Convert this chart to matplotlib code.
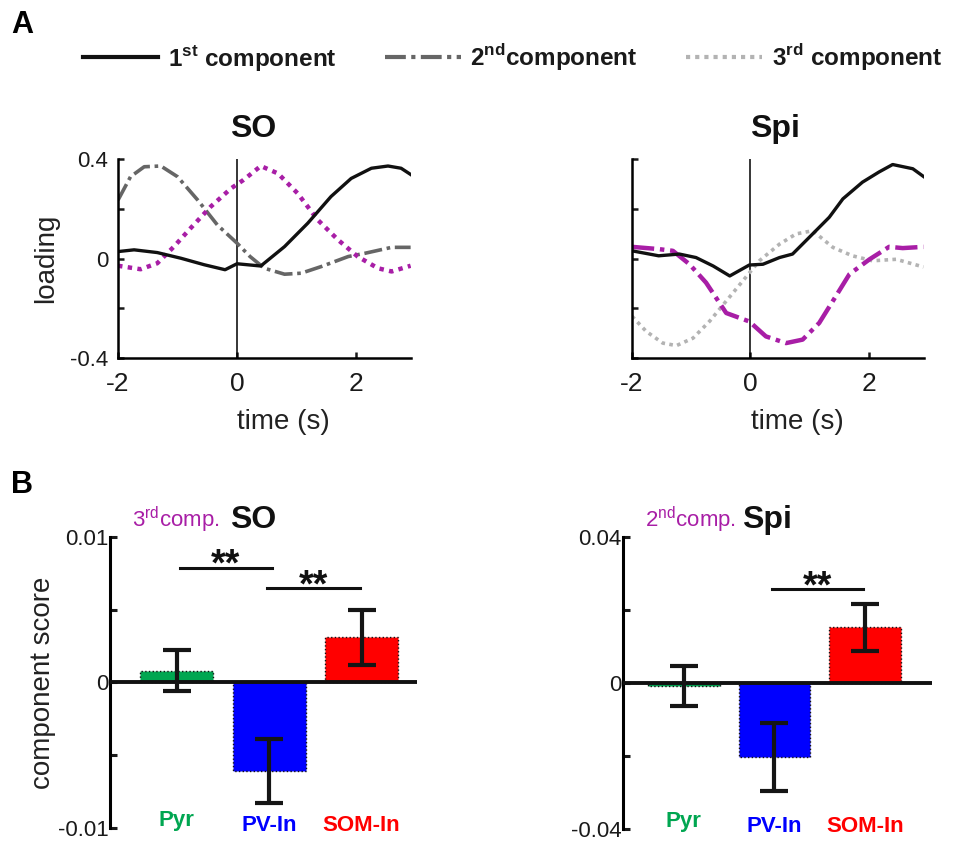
import numpy as np
import matplotlib
matplotlib.use('Agg')
from matplotlib import pyplot as plt
from matplotlib.lines import Line2D
import matplotlib.transforms as mtransforms

plt.rcParams['font.family'] = ['Liberation Sans', 'DejaVu Sans']
plt.rcParams['mathtext.fontset'] = 'custom'
plt.rcParams['mathtext.rm'] = 'Liberation Sans'
plt.rcParams['mathtext.bf'] = 'Liberation Sans:bold'

MAG = '#a81ea6'
DARKGRAY = '#666666'
LIGHTGRAY = '#b3b3b3'

# ---- panel A : loadings ----
t_so1 = [-2.0, -1.73, -1.34, -0.94, -0.55, -0.2, 0.0, 0.4, 0.8, 1.19, 1.58, 1.92, 2.26, 2.54, 2.76, 2.92]
so1 = [0.028, 0.035, 0.024, 0.001, -0.025, -0.045, -0.021, -0.03, 0.048, 0.142, 0.249, 0.322, 0.363, 0.372, 0.363, 0.338]
t_so2 = [-2.0, -1.79, -1.56, -1.28, -1.0, -0.66, -0.33, 0.0, 0.22, 0.46, 0.8, 1.08, 1.42, 1.87, 2.15, 2.6, 2.92]
so2 = [0.235, 0.329, 0.369, 0.372, 0.329, 0.235, 0.135, 0.062, 0.008, -0.039, -0.063, -0.059, -0.032, 0.008, 0.021, 0.045, 0.045]
t_so3 = [-2.0, -1.62, -1.34, -1.06, -0.78, -0.44, -0.1, 0.11, 0.4, 0.69, 1.02, 1.36, 1.7, 2.03, 2.37, 2.6, 2.92]
so3 = [-0.029, -0.043, -0.019, 0.048, 0.122, 0.209, 0.282, 0.316, 0.372, 0.342, 0.262, 0.155, 0.075, 0.008, -0.039, -0.052, -0.029]

t_sp1 = [-2.0, -1.55, -1.2, -0.92, -0.63, -0.35, -0.02, 0.21, 0.49, 0.71, 1.05, 1.33, 1.56, 1.89, 2.17, 2.4, 2.74, 2.92]
sp1 = [0.031, 0.011, 0.018, 0.004, -0.03, -0.07, -0.026, -0.023, 0.004, 0.018, 0.099, 0.166, 0.24, 0.307, 0.348, 0.378, 0.361, 0.33]
t_sp2 = [-2.0, -1.55, -1.31, -1.03, -0.75, -0.41, -0.02, 0.26, 0.6, 0.88, 1.16, 1.39, 1.67, 2.01, 2.34, 2.57, 2.92]
sp2 = [0.047, 0.038, 0.031, -0.023, -0.097, -0.219, -0.253, -0.313, -0.34, -0.326, -0.259, -0.171, -0.063, -0.003, 0.047, 0.042, 0.047]
t_sp3 = [-2.0, -1.76, -1.48, -1.25, -0.97, -0.69, -0.41, -0.13, 0.15, 0.49, 0.77, 1.05, 1.39, 1.72, 2.06, 2.46, 2.92]
sp3 = [-0.232, -0.293, -0.34, -0.35, -0.32, -0.252, -0.171, -0.09, -0.009, 0.058, 0.099, 0.112, 0.045, 0.011, -0.009, -0.003, -0.034]

# ---- panel B : component scores ----
cells = ['Pyr', 'PV-In', 'SOM-In']
cell_colors = ['#00a651', '#0000ff', '#ff0000']
so_score = [0.0008, -0.0061, 0.0031]
so_err = [0.0014, 0.0022, 0.0019]
spi_score = [-0.0009, -0.0203, 0.0153]
spi_err = [0.0055, 0.0093, 0.0065]

DASHDOT = (0, (5, 1.3, 1, 1.3))
DOT = (0, (1, 1.2))

fig = plt.figure(figsize=(9.55, 8.46), dpi=100)

def loading_axes(rect, showlabels):
    ax = fig.add_axes(rect)
    ax.set_xlim(-2, 2.93)
    ax.set_ylim(-0.4, 0.4)
    for s in ['top', 'right']:
        ax.spines[s].set_visible(False)
    for s in ['left', 'bottom']:
        ax.spines[s].set_linewidth(1.8)
    ax.set_xticks([-2, 0, 2])
    ax.set_yticks([-0.4, -0.2, 0, 0.2, 0.4])
    ax.tick_params(direction='in', length=4, width=1.8, colors='#1a1a1a')
    ax.tick_params(axis='x', labelsize=19, pad=10)
    ax.tick_params(axis='y', labelsize=16, pad=7)
    if showlabels:
        ax.set_yticklabels(['-0.4', '', '0', '', '0.4'])
    else:
        ax.set_yticklabels([])
    ax.set_xticklabels(['-2', '0', '2'])
    ax.axvline(0, color='k', lw=1.1)
    ax.set_xlabel('time (s)', fontsize=20, color='#222222')
    ax.xaxis.set_label_coords(0.565, -0.255)
    return ax

ax1 = loading_axes([0.1236, 0.5768, 0.307, 0.2352], True)
ax1.plot(t_so2, so2, color=DARKGRAY, lw=2.6, linestyle=DASHDOT)
ax1.plot(t_so3, so3, color=MAG, lw=3.2, linestyle=DOT)
ax1.plot(t_so1, so1, color='#111111', lw=2.4)
ax1.set_ylabel('loading', fontsize=20, color='#222222')
ax1.yaxis.set_label_coords(-0.2, 0.5)
ax1.text(0.46, 1.15, 'SO', transform=ax1.transAxes, ha='center', va='center',
         fontsize=23, fontweight='bold', color='#111111')

ax2 = loading_axes([0.6618, 0.5768, 0.3058, 0.2352], False)
ax2.plot(t_sp3, sp3, color=LIGHTGRAY, lw=2.6, linestyle=DOT)
ax2.plot(t_sp2, sp2, color=MAG, lw=3.2, linestyle=DASHDOT)
ax2.plot(t_sp1, sp1, color='#111111', lw=2.4)
ax2.text(0.49, 1.15, 'Spi', transform=ax2.transAxes, ha='center', va='center',
         fontsize=23, fontweight='bold', color='#111111')

# legend
handles = [Line2D([], [], color='#111111', lw=3),
           Line2D([], [], color=DARKGRAY, lw=3, linestyle=DASHDOT),
           Line2D([], [], color=LIGHTGRAY, lw=3, linestyle=DOT)]
labels = [r'1$^{\mathbf{st}}$ component', r'2$^{\mathbf{nd}}$component', r'3$^{\mathbf{rd}}$ component']
leg = fig.legend(handles, labels, loc='center left', bbox_to_anchor=(83 / 955, 1 - 57 / 846),
                 ncol=3, frameon=False, handlelength=3.1, handletextpad=0.4, columnspacing=2.0,
                 borderpad=0, borderaxespad=0, prop={'size': 17.5, 'weight': 'bold'})
for txt in leg.get_texts():
    txt.set_color('#1a1a1a')


def score_axes(rect, vals, errs, lim, ticklabels, xlim):
    ax = fig.add_axes(rect)
    x = np.arange(1, len(vals) + 1)
    ax.bar(x, vals, width=0.79, color=cell_colors, edgecolor='#111111', linestyle=':', linewidth=1.0, zorder=2)
    ax.errorbar(x, vals, yerr=errs, fmt='none', ecolor='#151515', elinewidth=3, capsize=10, capthick=3, zorder=4)
    ax.axhline(0, color='#111111', lw=2.8, zorder=3)
    ax.set_xlim(*xlim)
    ax.set_ylim(-lim, lim)
    for s in ['top', 'right', 'bottom']:
        ax.spines[s].set_visible(False)
    ax.spines['left'].set_linewidth(2.2)
    ax.set_xticks([])
    ax.set_yticks([-lim, -lim / 2, 0, lim / 2, lim])
    ax.set_yticklabels([ticklabels[0], '', '0', '', ticklabels[1]])
    ax.tick_params(axis='y', direction='in', length=5, width=2.2, labelsize=16, pad=1, colors='#1a1a1a')
    trans = mtransforms.blended_transform_factory(ax.transData, ax.transAxes)
    for i, (name, c) in enumerate(zip(cells, cell_colors)):
        ax.text(x[i], 0.025 if i == 0 else 0.008, name, transform=trans, ha='center', va='center',
                fontsize=16, fontweight='bold', color=c)
    return ax, trans


def sig(ax, x0, x1, y):
    ax.plot([x0, x1], [y, y], color='#111111', lw=2.2)
    ax.annotate('**', xy=((x0 + x1) / 2, y), xytext=(0, -6), textcoords='offset points',
                ha='center', va='baseline', fontsize=27, fontweight='bold', color='#111111')


ax3, tr3 = score_axes([0.1152, 0.0213, 0.3215, 0.344], so_score, so_err, 0.01, ['-0.01', '0.01'], (0.276, 3.6))
ax3.set_ylabel('component score', fontsize=20, color='#222222')
ax3.yaxis.set_label_coords(-0.175, 0.5)
sig(ax3, 1.03, 2.03, 0.0079)
sig(ax3, 1.98, 2.98, 0.0065)
ax3.text(0.466, 1.058, 'SO', transform=ax3.transAxes, ha='center', va='center',
         fontsize=23, fontweight='bold', color='#111111')
ax3.text(0.355, 1.058, r'3$^{\mathrm{rd}}$comp.', transform=ax3.transAxes, ha='right', va='center',
         fontsize=16, color=MAG)

ax4, tr4 = score_axes([0.6524, 0.0201, 0.3236, 0.345], spi_score, spi_err, 0.04, ['-0.04', '0.04'], (0.33, 3.74))
sig(ax4, 1.97, 2.98, 0.0258)
ax4.text(0.466, 1.058, 'Spi', transform=ax4.transAxes, ha='center', va='center',
         fontsize=23, fontweight='bold', color='#111111')
ax4.text(0.365, 1.058, r'2$^{\mathrm{nd}}$comp.', transform=ax4.transAxes, ha='right', va='center',
         fontsize=16, color=MAG)

fig.text(0.012, 0.97, 'A', fontsize=22, fontweight='bold', va='center')
fig.text(0.012, 0.427, 'B', fontsize=22, fontweight='bold', va='center')

fig.savefig('out.png', dpi=100)
